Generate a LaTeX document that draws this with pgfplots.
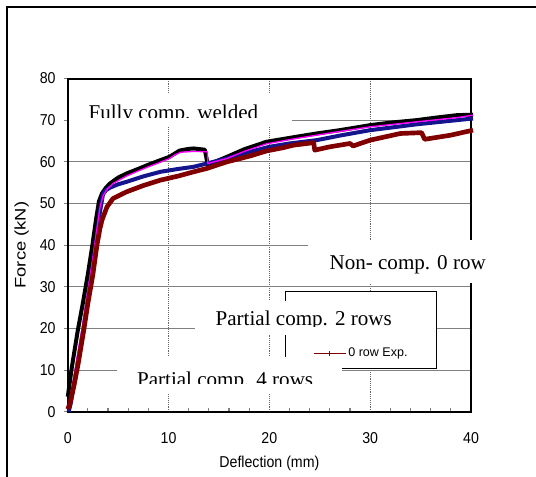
\documentclass[border=0pt]{standalone}
\usepackage{fontspec}
\setmainfont{Liberation Sans}
\newfontfamily\tickfont[FakeStretch=0.9]{Liberation Sans}
\newfontfamily\ylabfont[FakeStretch=1.2]{Liberation Sans}
\newfontfamily\notefont{Liberation Serif}
\usepackage{pgfplots}
\pgfplotsset{compat=1.18}
\definecolor{curvenavy}{RGB}{20,20,140}
\definecolor{curvered}{RGB}{128,0,0}
\definecolor{curvepink}{RGB}{255,0,255}
\newcommand{\notesize}{\fontsize{15.8}{18}\selectfont}
\begin{document}
\begin{tikzpicture}[x=0.75pt,y=0.75pt]
\begin{axis}[
  scale only axis, width=302.5pt, height=249.9pt,
  xmin=0, xmax=40, ymin=0, ymax=80,
  clip=false,
  xtick={0,10,20,30,40}, ytick={0,10,...,80},
  minor x tick num=4,
  xtick pos=left, ytick pos=left,
  tick align=outside,
  major tick length=3pt, minor tick length=3pt,
  every major x tick/.append style={draw=none},
  every minor x tick/.append style={yshift=3pt, line width=0.8pt},
  every major y tick/.append style={line width=0.8pt},
  xmajorgrids, ymajorgrids,
  every axis x grid/.style={black!60, densely dotted, line width=0.6pt},
  every axis y grid/.style={black!50, line width=0.75pt},
  axis line style={line width=1.5pt},
  /pgf/number format/assume math mode=true,
  ticklabel style={font=\tickfont\fontsize{11.8}{13}\selectfont},
  xticklabel style={yshift=-9pt},
  yticklabel style={xshift=-2.6pt},
  xlabel={Deflection (mm)},
  ylabel={Force (kN)},
  xlabel style={font=\tickfont\fontsize{11.8}{13}\selectfont,
    at={(axis description cs:0.5,-0.154)}, anchor=center},
  ylabel style={font=\ylabfont\fontsize{11.5}{13}\selectfont,
    at={(axis description cs:-0.114,0.5)}, anchor=center},
  legend style={at={(axis cs:24.3,14.0)}, anchor=west, draw=none, fill=none,
    inner sep=0pt, font=\fontsize{9.4}{11}\selectfont,
    nodes={inner sep=1.2pt}},
  legend cell align=left,
]
\coordinate (O) at (axis cs:0,0);
% fully composite, welded
\addplot[black, line width=3pt, line join=round, forget plot] coordinates {
(0,3.6) (0.05,4.3) (0.4,10.5) (1.0,19.5) (1.5,26) (2.0,33) (2.45,40) (2.8,46)
(3.1,50.5) (3.4,52.4) (3.8,53.8) (4.2,54.8) (5.0,56.2) (5.85,57.2) (7,58.3)
(8,59.3) (9.2,60.4) (10.1,61.2) (10.5,61.8) (11.1,62.7) (12.0,63.1) (12.5,63.2)
(13.6,62.9) (13.8,60.4) (13.9,59.3) (15.8,61.2) (17.5,63) (19.7,64.8) (22.4,65.9)
(24.7,66.8) (27,67.6) (30,68.8) (32,69.4) (34.6,70) (36.5,70.6) (38.6,71.2) (40.2,71.3)
};
% partial composite, 4 rows
\addplot[curvenavy, line width=3pt, line join=round, forget plot] coordinates {
(0.1,0) (0.3,2) (0.8,9) (1.5,19) (2.0,27) (2.5,35) (2.9,42) (3.2,48) (3.5,52.2)
(3.8,53.2) (4.2,53.8) (5.0,54.6) (5.85,55.2) (7.5,56.5) (9.2,57.6) (11,58.3)
(12.5,58.8) (13.8,59.6) (15.8,60.8) (18.1,62.4) (20,63.6) (22,64.4) (24.7,65.2)
(27,66.3) (30,67.6) (32,68.2) (34.6,69) (37,69.6) (40.2,70.4)
};
% partial composite, 2 rows
\addplot[curvepink, line width=1pt, line join=round, forget plot] coordinates {
(0,1) (0.5,6.5) (1.0,14) (1.5,21) (2.0,29) (2.5,37) (2.9,44) (3.2,49) (3.5,51.8)
(3.9,53.4) (4.5,54.8) (5.85,56.6) (7,57.8) (8,58.8) (9.2,59.9) (10.1,60.8)
(10.6,61.6) (11.2,62.3) (12.5,62.5) (13.85,62.4) (13.9,59.6) (15.8,60.8)
(17.5,62.5) (19.7,64.3) (22.4,65.5) (24.7,66.4) (27,67.3) (30,68.4) (34.6,69.6)
(38.6,70.6) (40.2,71.2)
};
% non-composite, 0 row, experiment
\addplot[curvered, line width=3.5pt, line join=round,
  legend image code/.code={
    \draw[curvered, line width=1.1pt] (0pt,0pt) -- (24.2pt,0pt);
    \draw[curvered, line width=0.6pt] (12.1pt,-1.6pt) -- (12.1pt,1.6pt);}]
coordinates {
(0,0.6) (0.2,1.8) (0.6,6) (1.0,11) (1.6,19.7) (2.0,26) (2.5,33) (2.9,40) (3.2,44)
(3.4,46) (3.9,49.2) (4.5,51.2) (5.85,52.8) (7.5,54.3) (9.2,55.6) (11,56.6)
(12.5,57.6) (13.8,58.4) (15.8,60) (18.1,61.4) (19.7,62.6) (21.4,63.4) (22.4,64)
(24.4,64.6) (24.5,62.8) (26,63.6) (28,64.4) (28.3,63.8) (30,65.2) (33,66.8)
(35.1,67) (35.4,65.4) (38,66.4) (40.2,67.6)
};
\addlegendentry{0 row Exp.}
% legend frame
\draw[line width=1.1pt, fill=white] (axis cs:21.6,28.8) rectangle (axis cs:36.6,10.4);
\end{axis}
% page coordinates: origin at the lower left of the page, axis origin at (67.7,65.3)
\begin{scope}[shift={(O)}]
\begin{scope}[shift={(-67.7,-65.3)}]
% outer frame
\draw[line width=1.7pt] (6.7,-20) -- (6.7,470.3) -- (600,470.3);
% text boxes over the plot area
\fill[white] (69.5,384) rectangle (292,350);
\fill[white] (308,237) rectangle (490,193.5);
\fill[white] (195,176) rectangle (405,142);
\fill[white] (117,119.5) rectangle (342,83);
\begin{scope}
  \clip (0,359.7) rectangle (536,477);
  \node[anchor=base west, inner sep=0pt, font=\notefont\notesize] at (88.3,357.7) {Fully comp. welded};
\end{scope}
\node[anchor=base west, inner sep=0pt, font=\notefont\notesize] at (329.3,207) {Non- comp. 0 row};
\begin{scope}
  \clip (0,150) rectangle (536,477);
  \node[anchor=base west, inner sep=0pt, font=\notefont\notesize] at (215.4,151.5) {Partial comp. 2 rows};
\end{scope}
\begin{scope}
  \clip (0,93) rectangle (536,477);
  \node[anchor=base west, inner sep=0pt, font=\notefont\notesize] at (136.8,90) {Partial comp. 4 rows};
\end{scope}
\pgfresetboundingbox
\useasboundingbox (0,0) rectangle (536,477);
\end{scope}
\end{scope}
\end{tikzpicture}
\end{document}
